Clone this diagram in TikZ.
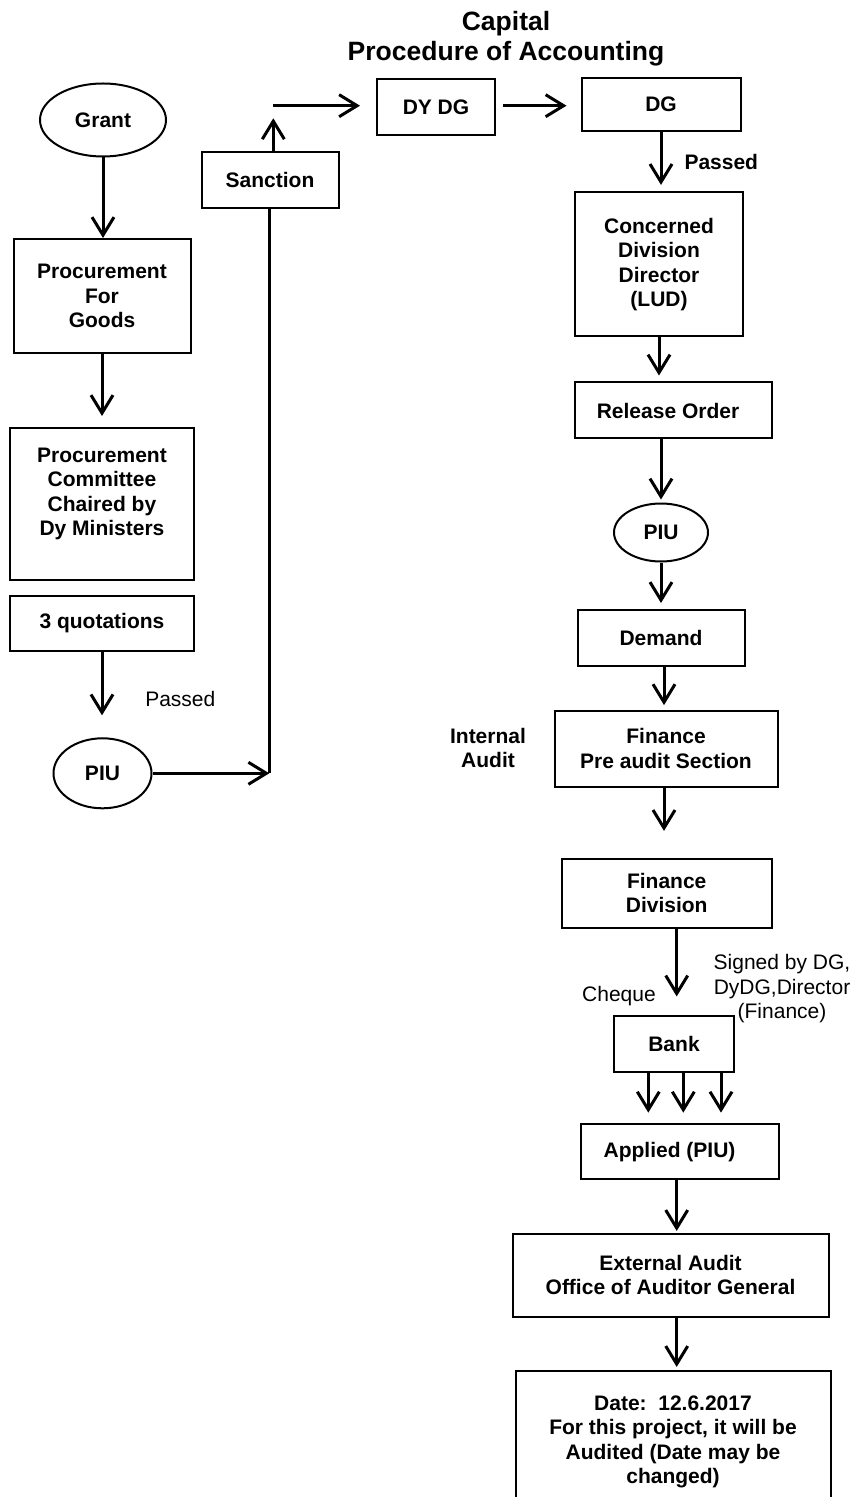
\documentclass[tikz,border=0pt]{standalone}
\usepackage{fontspec}
\setmainfont{Liberation Sans}
\usetikzlibrary{arrows.meta,shapes.geometric}
\newcommand\bfnt{\fontsize{10.5}{12.25}\selectfont\bfseries}
\newcommand\rgfnt{\fontsize{10.5}{12.25}\selectfont}
\newcommand\ttlfnt{\fontsize{13.25}{15}\selectfont\bfseries}
\tikzset{
  box/.style={draw, line width=1pt, inner sep=0pt, align=center, font=\bfnt},
  oval/.style={draw, ellipse, line width=1pt, inner sep=0pt, align=center, font=\bfnt},
  txt/.style={inner sep=0pt, align=center, font=\bfnt},
  rtxt/.style={inner sep=0pt, align=center, font=\rgfnt},
  arr/.style={line width=1.5pt, -{Straight Barb[length=9pt,width=11pt]}},
  ln/.style={line width=1.5pt}
}
\begin{document}
\begin{tikzpicture}[x=0.5pt,y=-0.5pt]
\clip (0,0) rectangle (853,1497);
\fill[white] (0,0) rectangle (853,1497);
% title
\node[txt, font=\ttlfnt] (title) at (506,39) {Capital\\Procedure of Accounting};
% left column
\node[oval, minimum width=63pt, minimum height=36.5pt] (grant) at (103,120) {Grant};
\node[box, minimum width=88.5pt, minimum height=57pt] (proc) at (102,296) {Procurement\\For\\Goods};
\node[box, minimum width=92pt, minimum height=76pt] (comm) at (102,504) {};
\node[txt] (commtxt) at (102,494) {Procurement\\Committee\\Chaired by\\Dy Ministers};
\node[box, minimum width=92pt, minimum height=27.5pt] (quot) at (102,623) {3 quotations};
\node[rtxt, anchor=base] (passL) at (180.3,706.7) {Passed};
\node[oval, minimum width=49pt, minimum height=35pt] (piuL) at (102.5,773.3) {PIU};
\coordinate (corner) at (269.3,773.3);
\node[box, minimum width=68.5pt, minimum height=28pt] (sanc) at (270,180) {Sanction};
\coordinate (uptip) at (273.3,118.3);
\coordinate (hstart) at (273.3,105.7);
% top row
\node[box, minimum width=59pt, minimum height=28pt] (dydg) at (436,107) {DY DG};
\node[box, minimum width=79.5pt, minimum height=26.5pt] (dg) at (661,104.5) {DG};
\node[txt, anchor=base] (passR) at (721.3,170) {Passed};
% right column
\node[box, minimum width=84pt, minimum height=72pt] (conc) at (659,264.5) {Concerned\\Division\\Director\\(LUD)};
\node[box, minimum width=98.5pt, minimum height=28pt] (rel) at (673,410.5) {Release Order\hspace*{5pt}};
\node[oval, minimum width=47pt, minimum height=29pt] (piuR) at (661,532.5) {PIU};
\node[box, minimum width=83.5pt, minimum height=28pt] (dem) at (661,638) {Demand};
\node[box, minimum width=111.5pt, minimum height=38pt] (fin) at (666,748.7) {Finance\\Pre audit Section};
\node[txt] (intaud) at (488,748) {Internal\\Audit};
\node[box, minimum width=105pt, minimum height=34.5pt] (fdiv) at (666.7,893) {Finance\\Division};
\node[rtxt, anchor=base] (cheque) at (619,1001.7) {Cheque};
\node[rtxt] (signed) at (782,988.7) {Signed by DG,\\DyDG,Director\\(Finance)};
\node[box, minimum width=60pt, minimum height=28pt] (bank) at (674,1044) {Bank};
\node[box, minimum width=99pt, minimum height=27.5pt] (appl) at (680,1151.7) {Applied (PIU)\hspace*{10.5pt}};
\node[box, minimum width=158pt, minimum height=41.5pt] (ext) at (670.5,1275) {External Audit\\Office of Auditor General};
\node[box, minimum width=157.3pt, minimum height=79.5pt] (date) at (673.3,1450) {};
\node[txt] (datetxt) at (673,1441.7) {Date:\ \ 12.6.2017\\For this project, it will be\\Audited (Date may be\\changed)};
% connectors left
\draw[arr] (grant.south) -- (grant.south |- proc.north);
\draw[arr, shorten >=5.5pt] (proc.south) -- (proc.south |- comm.north);
\draw[arr, shorten >=11pt] (quot.south) -- (quot.south |- piuL.north);
\draw[arr] (piuL.east) -- (corner);
\draw[ln] (corner) -- (corner |- sanc.south);
\draw[arr] (uptip |- sanc.north) -- (uptip);
\draw[arr, shorten >=8pt] (hstart) -- (hstart -| dydg.west);
\draw[arr, shorten <=3.5pt, shorten >=7pt] (dydg.east |- hstart) -- (dg.west |- hstart);
% connectors right
\draw[arr, shorten >=3.3pt] (dg.south) -- (dg.south |- conc.north);
\draw[arr, shorten >=3pt] (conc.south) -- (conc.south |- rel.north);
\draw[arr, shorten >=1.5pt] (rel.south -| piuR.north) -- (piuR.north);
\draw[arr, shorten >=3pt] (piuR.south) -- (piuR.south |- dem.north);
\draw[arr, shorten >=2.3pt] ([xshift=1.5pt]dem.south) -- ([xshift=1.5pt]dem.south |- fin.north);
\draw[arr, shorten >=13.3pt] ([xshift=-1pt]fin.south) -- ([xshift=-1pt]fin.south |- fdiv.north);
\draw[arr, shorten >=9.3pt] ([xshift=1.35pt]bank.north |- fdiv.south) -- ([xshift=1.35pt]bank.north);
\draw[arr, shorten >=5.3pt] ([xshift=-12.85pt]bank.south) -- ([xshift=-12.85pt]bank.south |- appl.north);
\draw[arr, shorten >=5.3pt] ([xshift=4.65pt]bank.south) -- ([xshift=4.65pt]bank.south |- appl.north);
\draw[arr, shorten >=5.3pt] ([xshift=23.5pt]bank.south) -- ([xshift=23.5pt]bank.south |- appl.north);
\draw[arr, shorten >=0.8pt] ([xshift=-1.65pt]appl.south) -- ([xshift=-1.65pt]appl.south |- ext.north);
\draw[arr, shorten >=1.3pt] ([xshift=3.1pt]ext.south) -- ([xshift=3.1pt]ext.south |- date.north);
\end{tikzpicture}
\end{document}
